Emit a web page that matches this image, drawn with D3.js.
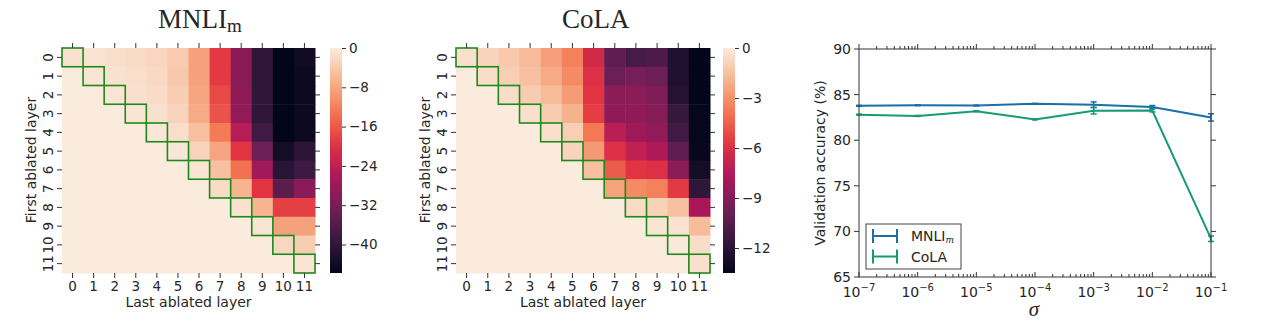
<!DOCTYPE html>
<html>
<head>
<meta charset="utf-8">
<script src="https://cdn.jsdelivr.net/npm/d3@7"></script>
<style>
body{margin:0;background:#fff}
text{font-family:"DejaVu Sans",sans-serif;fill:#262626}
</style>
</head>
<body>
<svg id="fig" width="1265" height="330"></svg>
<script>
// layers 0..11
var layers = d3.range(12);

// drop in accuracy, row = first ablated layer, col = last ablated layer
var mnliGrid = [
  [-1.2,-1.0,-1.5,-2.0,-2.5,-3.8,-8.5,-19,-30,-40,-45.8,-44],
  [0,-0.8,-1.2,-1.6,-2.2,-4.2,-8.5,-19,-30,-40,-45.8,-44.5],
  [0,0,-0.8,-1.3,-1.8,-3.5,-8,-17.5,-29.5,-40,-45.8,-44.5],
  [0,0,0,-0.8,-1.3,-2.8,-7.5,-16.5,-29,-40,-45.8,-44.5],
  [0,0,0,0,-0.6,-1.5,-5,-12.5,-25,-38,-45.8,-44.5],
  [0,0,0,0,0,-0.6,-2.8,-8,-19.5,-33,-43.5,-40.5],
  [0,0,0,0,0,0,-0.8,-5,-13.5,-27.5,-41,-38.5],
  [0,0,0,0,0,0,0,-1.8,-6.5,-19.5,-35,-30],
  [0,0,0,0,0,0,0,0,-1.2,-6.5,-18.5,-18.5],
  [0,0,0,0,0,0,0,0,0,-0.8,-8.5,-8.5],
  [0,0,0,0,0,0,0,0,0,0,-2.5,-3.5],
  [0,0,0,0,0,0,0,0,0,0,0,-0.7]
];
var colaGrid = [
  [-0.4,-0.8,-1.2,-1.7,-2.6,-3.5,-6.4,-10.2,-11,-10.8,-12.4,-13.5],
  [0,-0.5,-1.0,-1.5,-2.2,-3.2,-6.0,-9.8,-9.5,-9.8,-12.4,-13.5],
  [0,0,-0.5,-1.1,-1.7,-2.7,-5.8,-8.8,-8.8,-9.2,-12.2,-13.5],
  [0,0,0,-0.4,-1.1,-2.0,-5.5,-8.7,-8.7,-9.0,-11.6,-13.4],
  [0,0,0,0,-0.4,-1.0,-3.8,-7.2,-8.2,-8.6,-11.2,-13.4],
  [0,0,0,0,0,-0.8,-2.8,-6.0,-7.0,-7.6,-10.2,-13.3],
  [0,0,0,0,0,0,-1.5,-4.6,-5.8,-6.0,-8.8,-12.8],
  [0,0,0,0,0,0,0,-2.5,-3.2,-3.5,-5.6,-11.8],
  [0,0,0,0,0,0,0,0,-0.6,-0.9,-1.5,-7.8],
  [0,0,0,0,0,0,0,0,0,-0.2,-0.3,-1.7],
  [0,0,0,0,0,0,0,0,0,0,-0.1,-0.5],
  [0,0,0,0,0,0,0,0,0,0,0,-0.4]
];
var mnliCbTicks = [0,-8,-16,-24,-32,-40];
var colaCbTicks = [0,-3,-6,-9,-12];

// noise experiment
var sigmaExp = [-7,-6,-5,-4,-3,-2,-1];
var mnliAcc = [83.77,83.84,83.8,84.0,83.9,83.65,82.5];
var mnliErr = [0.05,0.05,0.05,0.03,0.3,0.15,0.4];
var colaAcc = [82.8,82.66,83.18,82.28,83.22,83.25,69.2];
var colaErr = [0.05,0.05,0.05,0.05,0.35,0.15,0.3];
var yTicks = [65,70,75,80,85,90];

// seaborn "rocket" approximation
var rocketStops = ["#03051a","#35193e","#701f57","#ad1759","#e13342","#f37651","#f6b48f","#faebdd"];
var rocket = d3.piecewise(d3.interpolateRgb, rocketStops);

var svg = d3.select("#fig");
var minus = s => String(s).replace("-", "\u2212");

function drawHeat(grid, cbTicks, o) {
  var g = svg.append("g");
  var x = d3.scaleBand().domain(layers).range([o.x0, o.x1]);
  var y = d3.scaleBand().domain(layers).range([48, 273]);
  var vmin = d3.min(grid.flat());
  var color = d3.scaleSequential(rocket).domain([vmin, 0]);

  var cells = [];
  grid.forEach((row, i) => row.forEach((v, j) => cells.push({i: i, j: j, v: v})));
  g.selectAll("rect.cell").data(cells).join("rect")
    .attr("x", d => x(d.j)).attr("y", d => y(d.i))
    .attr("width", x.bandwidth() + 0.5).attr("height", y.bandwidth() + 0.5)
    .attr("fill", d => color(d.v));

  // diagonal boxes
  g.selectAll("rect.diag").data(layers).join("rect")
    .attr("x", d => x(d)).attr("y", d => y(d))
    .attr("width", x.bandwidth()).attr("height", y.bandwidth())
    .attr("fill", "none").attr("stroke", "#1d8a1d").attr("stroke-width", 1.6);

  var ax = [
    [d3.axisBottom(x).tickSize(5), `translate(0,273)`, true],
    [d3.axisTop(x).tickSize(5).tickFormat(""), `translate(0,48)`, false],
    [d3.axisLeft(y).tickSize(5), `translate(${o.x0},0)`, true],
    [d3.axisRight(y).tickSize(5).tickFormat(""), `translate(${o.x1},0)`, false]
  ];
  ax.forEach((a, k) => {
    var s = g.append("g").attr("transform", a[1]).call(a[0]);
    s.select(".domain").remove();
    s.selectAll("line").attr("stroke", "#333");
    s.selectAll("text").style("font-size", "13.5px").style("font-family", "DejaVu Sans").attr("fill", "#262626");
    if (k == 2) {
      s.selectAll("text").attr("x", null).attr("dy", null).attr("text-anchor", "middle")
        .attr("transform", "translate(-9,0) rotate(-90)");
    }
  });

  g.append("text").attr("x", (o.x0 + o.x1) / 2).attr("y", 307)
    .attr("text-anchor", "middle").style("font-size", "14px").text("Last ablated layer");
  g.append("text").attr("transform", `translate(${o.x0 - 26},160) rotate(-90)`)
    .attr("text-anchor", "middle").style("font-size", "14px").text("First ablated layer");

  // colorbar
  var gid = "grad" + o.x0;
  var grad = svg.append("defs").append("linearGradient").attr("id", gid)
    .attr("x1", 0).attr("y1", 1).attr("x2", 0).attr("y2", 0);
  d3.range(0, 1.001, 0.05).forEach(t => grad.append("stop").attr("offset", t).attr("stop-color", rocket(t)));
  g.append("rect").attr("x", o.cb).attr("y", 48).attr("width", 12).attr("height", 225)
    .attr("fill", `url(#${gid})`);
  var cy = d3.scaleLinear().domain([vmin, 0]).range([273, 48]);
  var cs = g.append("g").attr("transform", `translate(${o.cb + 12},0)`)
    .call(d3.axisRight(cy).tickValues(cbTicks).tickSize(4).tickFormat(minus));
  cs.select(".domain").remove();
  cs.selectAll("line").attr("stroke", "#333");
  cs.selectAll("text").style("font-size", "13.5px").style("font-family", "DejaVu Sans").attr("fill", "#262626");

  var t = g.append("text").attr("x", o.tx).attr("y", 28)
    .style("font-family", "Liberation Serif").style("font-size", "27px").attr("fill", "#000");
  t.append("tspan").text(o.title);
  if (o.sub) t.append("tspan").attr("dy", 4).style("font-size", "19px").text(o.sub);
}

drawHeat(mnliGrid, mnliCbTicks, {x0: 62, x1: 315, cb: 330, tx: 158, title: "MNLI", sub: "m"});
drawHeat(colaGrid, colaCbTicks, {x0: 456, x1: 710, cb: 723, tx: 562, title: "CoLA"});

// ---- line chart
var L = 859, R = 1211, T = 49, B = 277;
var x = d3.scaleLog().domain([1e-7, 1e-1]).range([L, R]);
var y = d3.scaleLinear().domain([65, 90]).range([B, T]);
var lg = svg.append("g");

var allTicks = x.ticks();
allTicks.forEach(v => {
  var major = Math.abs(Math.log10(v) - Math.round(Math.log10(v))) < 1e-6;
  var len = major ? 5 : 3;
  lg.append("line").attr("x1", x(v)).attr("x2", x(v)).attr("y1", T).attr("y2", T - len).attr("stroke", "#333");
  lg.append("line").attr("x1", x(v)).attr("x2", x(v)).attr("y1", B).attr("y2", B - len).attr("stroke", "#333");
});
yTicks.forEach(v => {
  lg.append("line").attr("x1", L - 5).attr("x2", L).attr("y1", y(v)).attr("y2", y(v)).attr("stroke", "#333");
  lg.append("line").attr("x1", R).attr("x2", R + 5).attr("y1", y(v)).attr("y2", y(v)).attr("stroke", "#333");
  lg.append("text").attr("x", L - 8).attr("y", y(v)).attr("dy", "0.36em").attr("text-anchor", "end")
    .style("font-size", "14px").text(v);
});
sigmaExp.forEach(e => {
  var t = lg.append("text").attr("x", x(Math.pow(10, e))).attr("y", 297).attr("text-anchor", "middle")
    .style("font-size", "14px");
  t.append("tspan").text("10");
  t.append("tspan").attr("dy", -6).style("font-size", "10px").text(minus(e));
});

var sig = sigmaExp.map(e => Math.pow(10, e));
var series = [
  {acc: mnliAcc, err: mnliErr, color: "#1a6fa8"},
  {acc: colaAcc, err: colaErr, color: "#159a78"}
];
var line = d3.line().x(d => x(d[0])).y(d => y(d[1]));
series.forEach(s => {
  var pts = sig.map((v, i) => [v, s.acc[i], s.err[i]]);
  lg.append("path").datum(pts).attr("d", line).attr("fill", "none")
    .attr("stroke", s.color).attr("stroke-width", 2);
  pts.forEach(p => {
    var px = x(p[0]), y1 = y(p[1] - p[2]), y2 = y(p[1] + p[2]);
    lg.append("line").attr("x1", px).attr("x2", px).attr("y1", y1).attr("y2", y2).attr("stroke", s.color).attr("stroke-width", 1.5);
    [y1, y2].forEach(yy => lg.append("line").attr("x1", px - 3).attr("x2", px + 3)
      .attr("y1", yy).attr("y2", yy).attr("stroke", s.color).attr("stroke-width", 1.5));
  });
});

lg.append("rect").attr("x", L).attr("y", T).attr("width", R - L).attr("height", B - T)
  .attr("fill", "none").attr("stroke", "#333").attr("stroke-width", 1);

lg.append("text").attr("transform", `translate(825,163) rotate(-90)`).attr("text-anchor", "middle")
  .style("font-size", "14px").text("Validation accuracy (%)");
lg.append("text").attr("x", 1034).attr("y", 316).attr("text-anchor", "middle")
  .style("font-family", "Liberation Serif").style("font-style", "italic").style("font-size", "21px")
  .text("\u03c3");

// legend
var leg = lg.append("g");
leg.append("rect").attr("x", 866).attr("y", 224).attr("width", 95).attr("height", 45)
  .attr("fill", "#fff").attr("stroke", "#444").attr("stroke-width", 1);
var legNames = [["MNLI", "m"], ["CoLA", ""]];
series.forEach((s, i) => {
  var yy = 236 + i * 20.5;
  leg.append("line").attr("x1", 873).attr("x2", 897).attr("y1", yy).attr("y2", yy).attr("stroke", s.color).attr("stroke-width", 2);
  [873, 897].forEach(xx => leg.append("line").attr("x1", xx).attr("x2", xx).attr("y1", yy - 7).attr("y2", yy + 7)
    .attr("stroke", s.color).attr("stroke-width", 2));
  var t = leg.append("text").attr("x", 911).attr("y", yy + 5).style("font-size", "14px");
  t.append("tspan").text(legNames[i][0]);
  if (legNames[i][1]) t.append("tspan").attr("dy", 2).style("font-size", "9px").style("font-style", "italic")
    .style("font-family", "DejaVu Serif").text(legNames[i][1]);
});
</script>
</body>
</html>
